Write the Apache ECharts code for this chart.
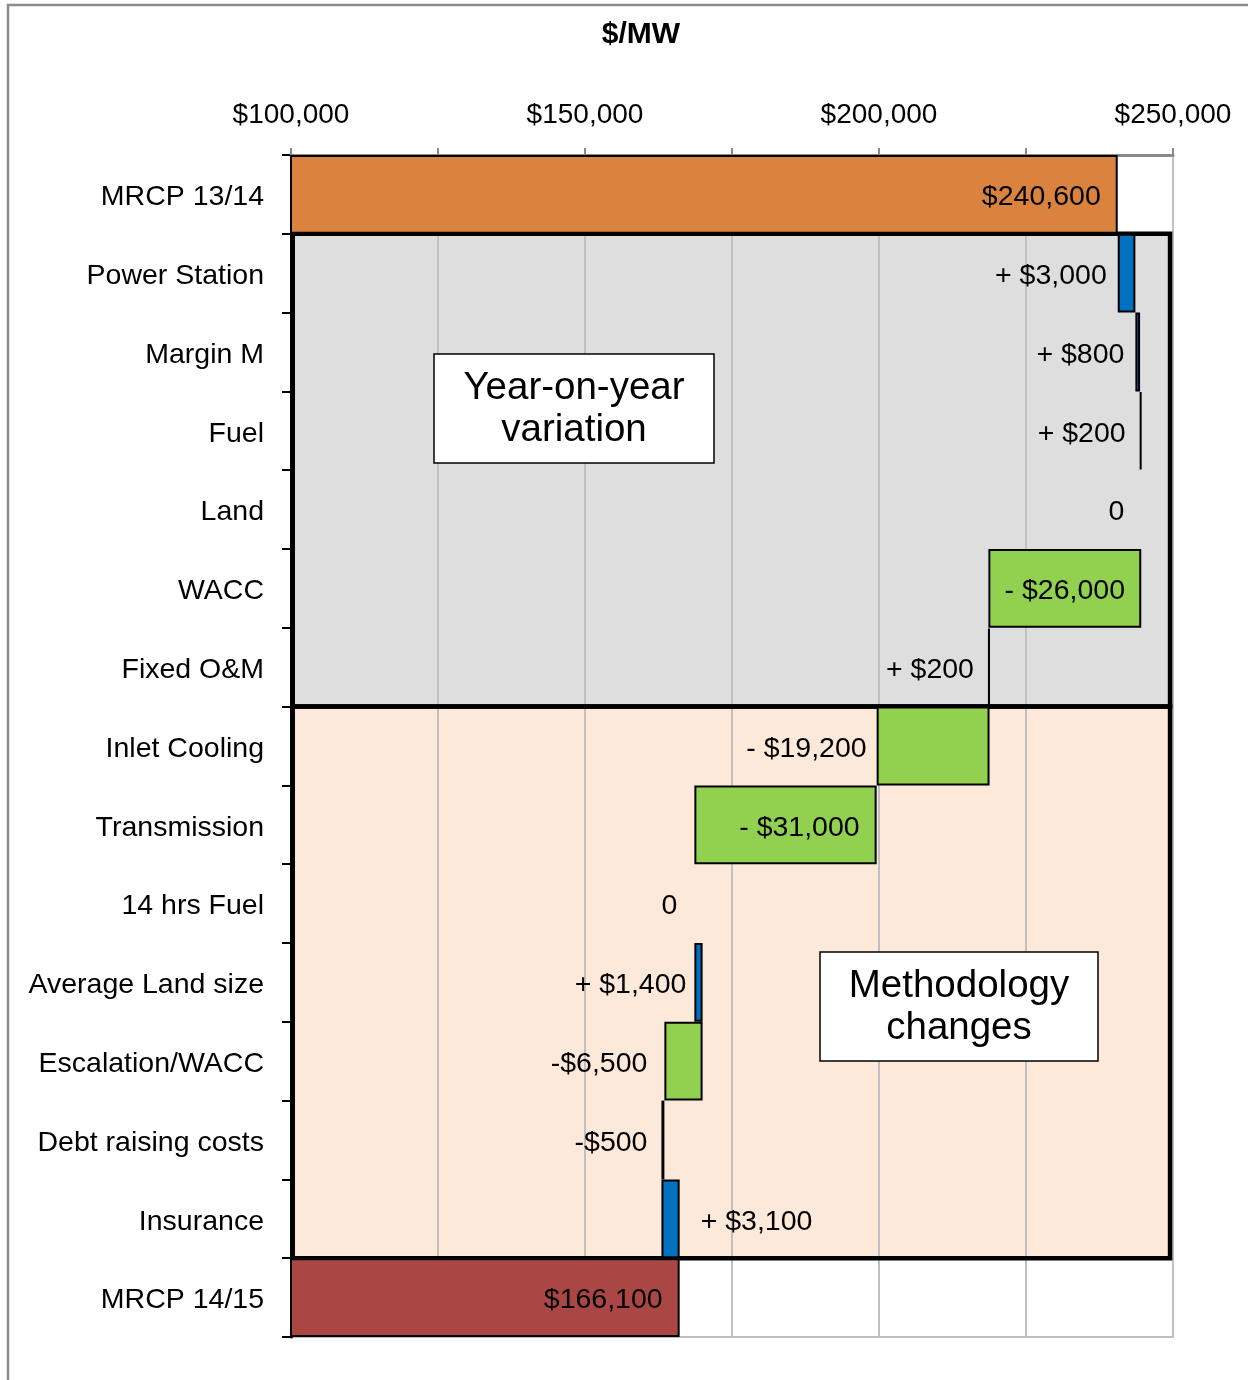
<!DOCTYPE html>
<html>
<head>
<meta charset="utf-8">
<title>MRCP waterfall</title>
<script src="https://cdn.jsdelivr.net/npm/echarts@6/dist/echarts.min.js"></script>
<style>
  html, body { margin: 0; padding: 0; background: #fff; }
  #chart { width: 1248px; height: 1380px; }
</style>
</head>
<body>
<div id="chart"></div>
<script>
// rows, top to bottom
const categories = ['MRCP 13/14', 'Power Station', 'Margin M', 'Fuel', 'Land', 'WACC', 'Fixed O&M',
  'Inlet Cooling', 'Transmission', '14 hrs Fuel', 'Average Land size', 'Escalation/WACC',
  'Debt raising costs', 'Insurance', 'MRCP 14/15'];
// first and last rows are totals, the rest are changes
const changes = [240600, 3000, 800, 200, 0, -26000, 200, -19200, -31000, 0, 1400, -6500, -500, 3100, 166100];
const totalRows = [0, 14];
const valueLabels = ['$240,600', '+ $3,000', '+ $800', '+ $200', '0', '- $26,000', '+ $200', '- $19,200',
  '- $31,000', '0', '+ $1,400', '-$6,500', '-$500', '+ $3,100', '$166,100'];
const labelPlaces = ['insideRight', 'left', 'left', 'left', 'left', 'inside', 'left', 'left',
  'insideRight', 'left', 'left', 'left', 'left', 'right', 'insideRight'];
const xLabelTicks = [100000, 150000, 200000, 250000];
// shaded groups of rows: first row, last row, x range
const groupNames = ['Year-on-year\nvariation', 'Methodology\nchanges'];
const groupRows = [[1, 6], [7, 13]];
const groupX = [[100300, 249500], [100300, 249500]];

const FONT = '"Liberation Sans", Arial, sans-serif';
const totalColors = { 0: '#DA833F', 14: '#AA4744' };
const groupFills = ['#DEDEDE', '#FDE9D9'];
const labelDist = { left: 14, insideRight: 17, right: 21, inside: 0 };
// a few labels sit a bit closer / further in the original
const distFix = { 1: 11, 2: 11, 4: 17, 7: 10, 9: 17, 10: 8, 11: 17 };

// stacked waterfall: invisible base + visible delta
let running = 0;
const baseData = [];
const deltaData = [];
changes.forEach((c, i) => {
  let base, size, color;
  if (totalRows.includes(i)) {
    base = 0; size = c; running = c; color = totalColors[i];
  } else {
    const next = running + c;
    base = Math.min(running, next);
    size = Math.abs(c);
    running = next;
    color = c >= 0 ? '#0070C0' : '#92D050';
  }
  baseData.push(base);
  const pos = labelPlaces[i];
  deltaData.push({
    value: size,
    itemStyle: size === 0 ? { color: 'transparent', borderWidth: 0 } : { color: color },
    label: { position: pos, distance: distFix[i] !== undefined ? distFix[i] : labelDist[pos] }
  });
});

const chart = echarts.init(document.getElementById('chart'));

function groupRect(params, api) {
  const band = api.size([0, 1])[1];
  const p0 = api.coord([api.value(0), api.value(2)]);
  const p1 = api.coord([api.value(1), api.value(3)]);
  return {
    x: p0[0],
    y: p0[1] - band / 2,
    width: p1[0] - p0[0],
    height: p1[1] - p0[1] + band
  };
}
const groupData = groupRows.map((r, i) => [groupX[i][0], groupX[i][1], r[0], r[1]]);

function noteBox(x, y, w, h, text) {
  return {
    type: 'group', x: x, y: y,
    children: [
      { type: 'rect', z: 100, silent: true, shape: { x: 0, y: 0, width: w, height: h },
        style: { fill: '#fff', stroke: '#000', lineWidth: 1.5 } },
      { type: 'text', z: 101, silent: true, x: w / 2, y: h / 2 + 1,
        style: { text: text, font: '38.5px ' + FONT, fill: '#000', align: 'center',
          verticalAlign: 'middle', lineHeight: 42 } }
    ]
  };
}

const option = {
  animation: false,
  textStyle: { fontFamily: FONT },
  grid: {
    left: 291, top: 155, right: 75, bottom: 43,
    show: true, borderColor: '#BFBFBF', borderWidth: 2, backgroundColor: 'transparent'
  },
  xAxis: {
    type: 'value',
    position: 'top',
    min: 100000,
    max: 250000,
    interval: 25000,
    axisLine: { show: true, lineStyle: { color: '#898989', width: 3 } },
    axisTick: { show: true, length: 7, lineStyle: { color: '#898989', width: 2 } },
    axisLabel: {
      margin: 26,
      fontSize: 28,
      color: '#000',
      fontFamily: FONT,
      formatter: v => xLabelTicks.includes(v) ? '$' + v.toLocaleString('en-US') : ''
    },
    splitLine: { show: true, lineStyle: { color: '#C0C0C0', width: 2 } }
  },
  yAxis: {
    type: 'category',
    inverse: true,
    data: categories,
    axisLine: { show: true, lineStyle: { color: '#000', width: 3 } },
    axisTick: { show: true, length: 9, lineStyle: { color: '#000', width: 2 } },
    axisLabel: {
      margin: 27, color: '#000',
      formatter: v => '{c|' + v + '}',
      rich: { c: { fontSize: 28.5, fontFamily: FONT, color: '#000', padding: [6, 0, 0, 0] } }
    }
  },
  series: [
    {
      // shaded group fill, under the gridlines
      type: 'custom',
      z: -1,
      silent: true,
      clip: false,
      data: groupData,
      encode: { x: [0, 1], y: [2, 3] },
      renderItem: (params, api) => ({
        type: 'rect',
        shape: groupRect(params, api),
        style: { fill: groupFills[params.dataIndex] }
      })
    },
    {
      // group outline
      type: 'custom',
      z: 1,
      silent: true,
      clip: false,
      data: groupData,
      encode: { x: [0, 1], y: [2, 3] },
      renderItem: (params, api) => ({
        type: 'rect',
        shape: groupRect(params, api),
        style: { fill: 'none', stroke: '#000', lineWidth: 4.5 }
      })
    },
    {
      type: 'bar',
      stack: 'wf',
      silent: true,
      barCategoryGap: 0,
      itemStyle: { color: 'transparent' },
      data: baseData
    },
    {
      type: 'bar',
      stack: 'wf',
      barCategoryGap: 0,
      z: 3,
      itemStyle: { borderColor: '#000', borderWidth: 2 },
      label: {
        show: true,
        fontSize: 28.5,
        color: '#000',
        fontFamily: FONT,
        offset: [0, 3],
        formatter: p => valueLabels[p.dataIndex]
      },
      data: deltaData
    }
  ],
  graphic: [
    {
      type: 'rect', z: 100, silent: true,
      shape: { x: 8, y: 5, width: 1400, height: 1500 },
      style: { fill: 'none', stroke: '#8C8C8C', lineWidth: 2.5 }
    },
    {
      type: 'text', z: 100, x: 641, y: 35,
      style: { text: '$/MW', font: 'bold 30px ' + FONT, fill: '#000', align: 'center', verticalAlign: 'middle' }
    },
    noteBox(434, 354, 280, 109, groupNames[0]),
    noteBox(820, 952, 278, 109, groupNames[1])
  ]
};

chart.setOption(option);
</script>
</body>
</html>
